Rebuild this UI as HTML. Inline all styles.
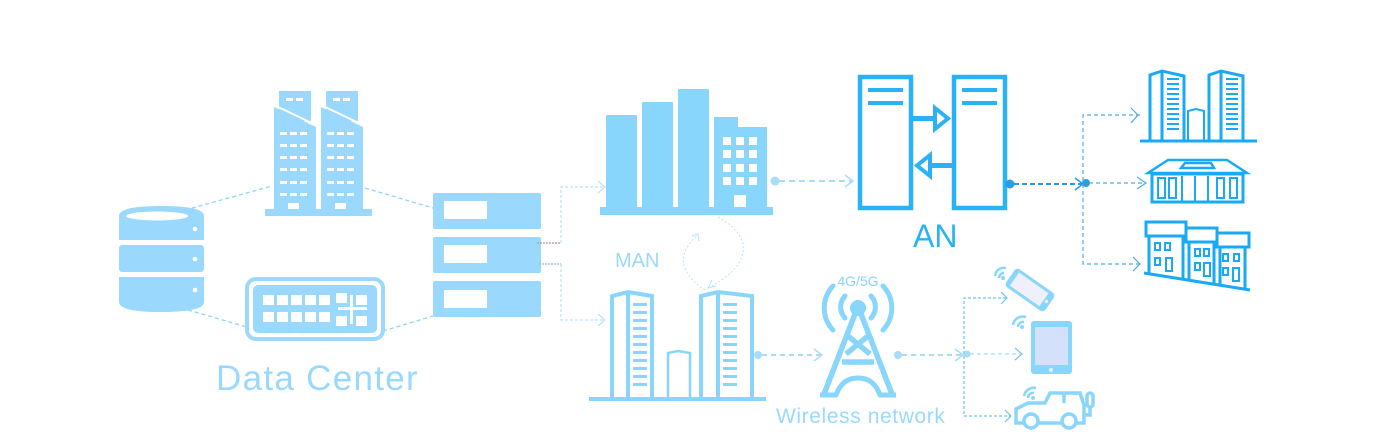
<!DOCTYPE html>
<html><head><meta charset="utf-8"><style>html,body{margin:0;padding:0;background:#fff;}svg{display:block}</style></head>
<body>
<svg width="1397" height="443" viewBox="0 0 1397 443" xmlns="http://www.w3.org/2000/svg" font-family="Liberation Sans, sans-serif">
<g stroke="#8fd3f7" stroke-width="1.3" stroke-dasharray="4 3" fill="none">
<line x1="185" y1="210" x2="272" y2="186"/>
<line x1="365" y1="188" x2="433" y2="208"/>
<line x1="188" y1="310" x2="247" y2="327"/>
<line x1="383" y1="331" x2="433" y2="316"/>
</g>
<g fill="#9ad9fd">
<path d="M119 216 Q119 206 161 206 Q204 206 204 216 L204 240 L119 240 Z"/>
<rect x="119" y="245" width="85" height="27" rx="3"/>
<path d="M119 277 L204 277 L204 302 Q204 312 161 312 Q119 312 119 302 Z"/>
</g>
<ellipse cx="157" cy="216" rx="31" ry="4.5" fill="#fff"/>
<g fill="#fff"><circle cx="195" cy="229" r="2.3"/><circle cx="195" cy="259" r="2.3"/><circle cx="195" cy="290" r="2.3"/></g>
<g fill="#9ad9fd">
<rect x="279" y="91" width="32" height="30"/>
<rect x="326" y="91" width="32" height="30"/>
<path d="M274 107 L316 127 L316 211 L274 211 Z"/>
<path d="M321 107 L363 127 L363 211 L321 211 Z"/>
<rect x="265" y="209" width="107" height="7"/>
</g>
<g stroke="#fff" stroke-width="2" fill="none"><path d="M274 105 L316 125 M321 105 L363 125"/></g>
<g fill="#fff">
<rect x="286" y="98" width="7" height="3"/><rect x="296" y="98" width="7" height="3"/>
<rect x="333" y="98" width="7" height="3"/><rect x="343" y="98" width="7" height="3"/>
<g id="w">
<rect x="280" y="132" width="7" height="3"/><rect x="290" y="132" width="7" height="3"/><rect x="300" y="132" width="7" height="3"/>
<rect x="280" y="144" width="7" height="3"/><rect x="290" y="144" width="7" height="3"/><rect x="300" y="144" width="7" height="3"/>
<rect x="280" y="156" width="7" height="3"/><rect x="290" y="156" width="7" height="3"/><rect x="300" y="156" width="7" height="3"/>
<rect x="280" y="168" width="7" height="3"/><rect x="290" y="168" width="7" height="3"/><rect x="300" y="168" width="7" height="3"/>
<rect x="280" y="181" width="7" height="3"/><rect x="290" y="181" width="7" height="3"/><rect x="300" y="181" width="7" height="3"/>
<rect x="280" y="193" width="7" height="3"/><rect x="290" y="193" width="7" height="3"/><rect x="300" y="193" width="7" height="3"/>
<rect x="288" y="203" width="11" height="6"/>
</g>
<use href="#w" x="47"/>
</g>
<rect x="247" y="279" width="136" height="60" rx="9" fill="none" stroke="#9ad9fd" stroke-width="4"/>
<rect x="253" y="285" width="124" height="48" rx="5" fill="#9ad9fd"/>
<g fill="#fff">
<g id="k"><rect x="263" y="295" width="11" height="10"/><rect x="277" y="295" width="11" height="10"/><rect x="291" y="295" width="11" height="10"/><rect x="305" y="295" width="11" height="10"/><rect x="319" y="295" width="11" height="10"/></g>
<use href="#k" y="17"/>
<rect x="336" y="293" width="11" height="10"/><rect x="356" y="295" width="11" height="10"/>
<rect x="336" y="316" width="11" height="10"/><rect x="356" y="316" width="11" height="10"/>
<rect x="338" y="307" width="29" height="3"/><rect x="350" y="295" width="3" height="29"/>
</g>
<g fill="#9ad9fd"><rect x="433" y="193" width="108" height="36" rx="2"/><rect x="433" y="237" width="108" height="36" rx="2"/><rect x="433" y="281" width="108" height="36" rx="2"/></g>
<g fill="#fff"><rect x="444" y="201" width="43" height="18"/><rect x="444" y="245" width="43" height="18"/><rect x="444" y="290" width="43" height="18"/></g>
<text x="216" y="390" font-size="35" letter-spacing="1.3" fill="#9ad9fd">Data Center</text>
<line x1="537" y1="243" x2="561" y2="243" stroke="#c98a99" stroke-width="1.3" stroke-dasharray="2 1"/>
<line x1="539" y1="264" x2="561" y2="264" stroke="#9bb8cc" stroke-width="1.3" stroke-dasharray="2 1"/>
<g stroke="#b8e3fb" stroke-width="1.2" fill="none">
<path d="M561 243 L561 187 L604 187 M561 264 L561 320 L604 320" stroke-dasharray="3 2"/>
<path d="M598 181 L605 187 L598 193 M598 314 L605 320 L598 326"/>
</g>
<g fill="#88d6fc">
<rect x="606" y="115" width="31" height="95" rx="1"/><rect x="642" y="102" width="31" height="108" rx="1"/>
<rect x="678" y="89" width="31" height="121" rx="1"/><rect x="714" y="117" width="24" height="93"/>
<rect x="736" y="127" width="31" height="83"/><rect x="600" y="207" width="173" height="8"/>
</g>
<g fill="#fff">
<g id="g1"><rect x="723" y="137" width="8" height="8"/><rect x="736" y="137" width="8" height="8"/><rect x="749" y="137" width="8" height="8"/></g>
<use href="#g1" y="13"/><use href="#g1" y="27"/><use href="#g1" y="40"/>
<rect x="734" y="195" width="12" height="12"/>
</g>
<text x="615" y="267" font-size="20" fill="#9ad9fd">MAN</text>
<path d="M718 217 C760 240 745 270 708 288" stroke="#b8e3fb" stroke-width="1" stroke-dasharray="2 2" fill="none"/>
<path d="M705 290 C675 270 680 250 698 235" stroke="#b8e3fb" stroke-width="1" stroke-dasharray="2 2" fill="none"/>
<path d="M712 280 L708 288 L716 286 M692 236 L698 234 L699 241" stroke="#b8e3fb" stroke-width="1" fill="none"/>
<circle cx="775" cy="181" r="4.5" fill="#a9dcf7"/>
<line x1="779" y1="181" x2="852" y2="181" stroke="#a9dcf7" stroke-width="2" stroke-dasharray="6 4"/>
<path d="M845 175 L853 181 L845 187" stroke="#a9dcf7" stroke-width="1.5" fill="none"/>
<g stroke="#2ab2f8" stroke-width="4.5" fill="none">
<rect x="860" y="77" width="51" height="131"/>
<rect x="954" y="77" width="51" height="131"/>
</g>
<g fill="#2ab2f8">
<rect x="868" y="88" width="35" height="4"/><rect x="868" y="101" width="35" height="4"/>
<rect x="962" y="88" width="35" height="4"/><rect x="962" y="101" width="35" height="4"/>
<rect x="913" y="116" width="22" height="5"/><rect x="930" y="163" width="22" height="5"/>
</g>
<path d="M935 108 L948 118.5 L935 129 Z" fill="#fff" stroke="#2ab2f8" stroke-width="4"/>
<path d="M930 155 L917 165.5 L930 176 Z" fill="#fff" stroke="#2ab2f8" stroke-width="4"/>
<text x="913" y="247" font-size="32" fill="#2ab2f8">AN</text>
<circle cx="1010" cy="184" r="4.5" fill="#2a9de0"/>
<line x1="1014" y1="184" x2="1082" y2="184" stroke="#2a9de0" stroke-width="2" stroke-dasharray="5 3"/>
<path d="M1075 178 L1083 184 L1075 190" stroke="#2a9de0" stroke-width="1.5" fill="none"/>
<circle cx="1086" cy="183" r="4" fill="#2a9de0"/>
<g stroke="#4aaee6" stroke-width="1.2" fill="none">
<path d="M1140 115 L1083 115 L1083 264 L1140 264 M1089 183 L1145 183" stroke-dasharray="4 3"/>
<path d="M1131 108 L1138 115 L1131 123 M1137 177 L1146 183 L1137 189 M1133 257 L1140 264 L1133 271"/>
</g>
<g stroke="#1aaaf5" stroke-width="3" fill="none">
<path d="M1150 141 L1150 75 L1162 71 L1184 76 L1184 141"/><line x1="1162" y1="72" x2="1162" y2="141"/>
<path d="M1209 141 L1209 75 L1221 71 L1243 76 L1243 141"/><line x1="1221" y1="72" x2="1221" y2="141"/>
<path d="M1188 141 L1188 111 L1196 109 L1204 111 L1204 141" stroke-width="2"/>
<line x1="1140" y1="141" x2="1257" y2="141"/>
<path d="M1152 173 L1148 173 L1168 160 L1227 160 L1247 173 L1243 173 Z M1181 168 L1185 163 L1211 163 L1214 168 Z" stroke-width="2.5"/>
<rect x="1152" y="174" width="91" height="28"/>
<path d="M1158 178 h7 v20 h-7z M1169 178 h7 v20 h-7z M1182 176 v26 M1195 176 v26 M1208 176 v26 M1217 178 h7 v20 h-7z M1230 178 h7 v20 h-7z" stroke-width="2"/>
<rect x="1146" y="222" width="40" height="14"/><rect x="1186" y="228" width="31" height="14"/><rect x="1217" y="233" width="32" height="14"/>
<path d="M1149 236 L1149 274 M1183 236 L1183 280 M1189 242 L1189 280 M1214 242 L1214 284 M1220 247 L1220 284 M1245 247 L1245 288" />
<line x1="1144" y1="273" x2="1250" y2="290"/>
<path d="M1155 243h5v7h-5z M1165 243h5v7h-5z M1155 258h5v7h-5z M1166 258h6v13h-6z M1195 249h5v7h-5z M1204 249h5v7h-5z M1195 263h5v7h-5z M1204 263h6v13h-6z M1223 254h5v7h-5z M1234 254h5v7h-5z M1223 268h5v7h-5z M1233 268h6v13h-6z" stroke-width="2"/>
</g>
<g fill="#1aaaf5">
<g id="st"><rect x="1167" y="78" width="12" height="2"/><rect x="1167" y="83" width="12" height="2"/><rect x="1167" y="88" width="12" height="2"/><rect x="1167" y="93" width="12" height="2"/><rect x="1167" y="98" width="12" height="2"/><rect x="1167" y="103" width="12" height="2"/><rect x="1167" y="108" width="12" height="2"/><rect x="1167" y="113" width="12" height="2"/><rect x="1167" y="118" width="12" height="2"/><rect x="1167" y="123" width="12" height="2"/><rect x="1167" y="128" width="12" height="2"/></g>
<use href="#st" x="59"/>
</g>
<g stroke="#88d6fc" stroke-width="4" fill="none">
<path d="M612 398 L612 296 L628 292 L652 296 L652 398"/><line x1="628" y1="293" x2="628" y2="398"/>
<path d="M701 398 L701 296 L718 292 L752 296 L752 398"/><line x1="718" y1="293" x2="718" y2="398"/>
<path d="M668 398 L668 353 L678 351 L690 353 L690 398" stroke-width="2.5"/>
<line x1="589" y1="399" x2="766" y2="399"/>
</g>
<g fill="#88d6fc">
<g id="sb"><rect x="633" y="303" width="14" height="3"/><rect x="633" y="311" width="14" height="3"/><rect x="633" y="319" width="14" height="3"/><rect x="633" y="327" width="14" height="3"/><rect x="633" y="335" width="14" height="3"/><rect x="633" y="343" width="14" height="3"/><rect x="633" y="351" width="14" height="3"/><rect x="633" y="359" width="14" height="3"/><rect x="633" y="367" width="14" height="3"/><rect x="633" y="375" width="14" height="3"/><rect x="633" y="383" width="14" height="3"/></g>
<use href="#sb" x="90"/>
</g>
<circle cx="758" cy="355" r="4" fill="#a9dcf7"/>
<line x1="762" y1="355" x2="820" y2="355" stroke="#a9dcf7" stroke-width="2" stroke-dasharray="5 4"/>
<path d="M814 349 L822 355 L814 361" stroke="#a9dcf7" stroke-width="1.5" fill="none"/>
<!-- tower -->
<g fill="#88d6fc"><circle cx="858" cy="308" r="8"/></g>
<g stroke="#88d6fc" stroke-width="5.5" fill="none" stroke-linejoin="round">
<path d="M855 314 L824 394 M861 314 L892 394"/>
<path d="M848 336 L870 354 M868 336 L846 354 M842 362 L874 362"/>
<path d="M820 395 L836 395 Q842 378 858 378 Q874 378 880 395 L896 395" stroke-width="5"/>
</g>
<g stroke="#88d6fc" stroke-width="5" fill="none" stroke-linecap="round">
<path d="M845 296 A16 16 0 0 0 845 318 M871 296 A16 16 0 0 1 871 318"/>
<path d="M833 286 A32 32 0 0 0 833 330 M883 286 A32 32 0 0 1 883 330"/>
</g>
<text x="858" y="286" font-size="14" fill="#88d6fc" text-anchor="middle">4G/5G</text>
<circle cx="898" cy="355" r="4" fill="#a9dcf7"/>
<line x1="902" y1="355" x2="961" y2="355" stroke="#a9dcf7" stroke-width="2" stroke-dasharray="5 4"/>
<path d="M955 349 L963 355 L955 361" stroke="#a9dcf7" stroke-width="1.5" fill="none"/>
<circle cx="967" cy="354" r="3.5" fill="#a9dcf7"/>
<g stroke="#6cc3ee" stroke-width="1.2" fill="none">
<path d="M1006 298 L964 298 L964 416 L1010 416" stroke-dasharray="3 2"/>
<path d="M970 354 L1020 354" stroke="#a9dcf7" stroke-dasharray="4 3"/>
<path d="M1001 292 L1007 298 L1001 304 M1005 410 L1011 416 L1005 422 M1015 348 L1022 354 L1015 360"/>
</g>
<text x="776" y="423" font-size="21" letter-spacing="0.6" fill="#9ad9fd">Wireless network</text>
<g transform="rotate(35 1030 290)">
<rect x="1006" y="279" width="48" height="22" rx="4" fill="#88d6fc"/>
<rect x="1011" y="282" width="36" height="16" fill="#eef0fd"/>
<circle cx="1050" cy="290" r="1.6" fill="#fff"/>
</g>
<g stroke="#88d6fc" stroke-width="2.5" fill="none"><path d="M995 276 A9 9 0 0 1 1006 268 M999 278 A5 5 0 0 1 1004 273"/></g>
<circle cx="1003" cy="278" r="2" fill="#88d6fc"/>
<rect x="1031" y="321" width="41" height="53" rx="3" fill="#88d6fc"/>
<rect x="1035" y="327" width="33" height="38" fill="#d3e2fa"/>
<circle cx="1051" cy="370" r="2" fill="#e6f2fd"/>
<g stroke="#88d6fc" stroke-width="2.5" fill="none"><path d="M1013 325 A10 10 0 0 1 1026 317 M1018 327 A5 5 0 0 1 1024 322"/></g>
<circle cx="1022" cy="327" r="2" fill="#88d6fc"/>
<g stroke="#88d6fc" stroke-width="3.5" fill="none">
<path d="M1016 423 L1016 409 L1028 403 L1045 403 L1050 393 L1080 393 L1084 405 L1084 423 Z"/>
<line x1="1064" y1="393" x2="1064" y2="403"/>
<rect x="1087" y="393" width="6" height="14" rx="3"/><path d="M1090 407 L1090 415 L1084 415"/>
</g>
<circle cx="1031" cy="421" r="7" fill="#fff" stroke="#88d6fc" stroke-width="3.5"/>
<circle cx="1069" cy="421" r="7" fill="#fff" stroke="#88d6fc" stroke-width="3.5"/>
<g stroke="#88d6fc" stroke-width="2.5" fill="none"><path d="M1024 396 A10 10 0 0 1 1036 388 M1028 398 A5 5 0 0 1 1034 393"/></g>
<circle cx="1033" cy="398" r="2" fill="#88d6fc"/>
</svg>
</body></html>
